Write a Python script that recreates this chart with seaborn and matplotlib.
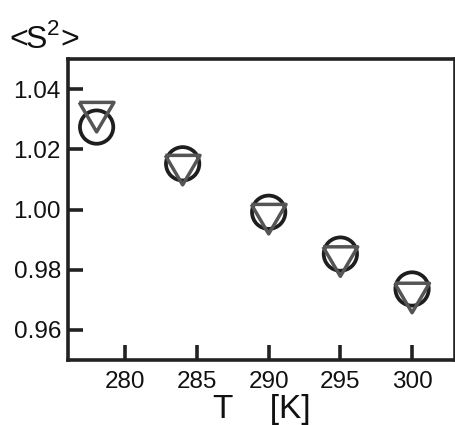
import matplotlib
matplotlib.use('Agg')
import matplotlib.pyplot as plt
import seaborn as sns
import pandas as pd

# values
temperature = [278, 284, 290, 295, 300]
s2_circle = [1.0274, 1.0152, 0.9991, 0.9852, 0.9736]
s2_triangle = [1.0307, 1.0131, 0.9968, 0.9827, 0.9706]
x_ticks = [280, 285, 290, 295, 300]
y_ticks = [0.96, 0.98, 1.00, 1.02, 1.04]

df = pd.DataFrame({'T': temperature, 'circle': s2_circle, 'triangle': s2_triangle})

sns.set_style('white')
plt.rcParams['font.family'] = ['Liberation Sans', 'DejaVu Sans']
plt.rcParams['mathtext.fontset'] = 'custom'
plt.rcParams['mathtext.rm'] = 'Liberation Sans'

# slightly flattened downward triangle, as in the original
tri_down = [(-1, 0.85), (1, 0.85), (0, -0.85), (-1, 0.85)]

fig = plt.figure(figsize=(4.56, 4.25), dpi=100)
ax = fig.add_axes([0.149, 0.153, 0.849, 0.708])

sns.scatterplot(data=df, x='T', y='circle', marker='o', s=24 ** 2,
                facecolors='none', edgecolor='#1e1e1e', linewidth=2.7, ax=ax, zorder=3)
sns.scatterplot(data=df, x='T', y='triangle', marker=tri_down, s=25 ** 2,
                facecolors='none', edgecolor='#555555', linewidth=2.5, ax=ax, zorder=4)

ax.set_xlim(276, 303)
ax.set_ylim(0.95, 1.05)
ax.set_xticks(x_ticks)
ax.set_yticks(y_ticks)
ax.set_xticklabels([str(v) for v in x_ticks])
ax.set_yticklabels([f'{v:.2f}' for v in y_ticks])

for side in ['left', 'bottom', 'top', 'right']:
    ax.spines[side].set_linewidth(2.6)
    ax.spines[side].set_color('#222222')
ax.tick_params(axis='both', direction='in', length=11, width=2.6, color='#222222',
               labelsize=17.5, labelcolor='#111111', bottom=True, left=True)
ax.tick_params(axis='y', pad=5)
ax.tick_params(axis='x', pad=8)

ax.set_xlabel('T    [K]', fontsize=24, labelpad=0.5, color='#111111')
ax.set_ylabel('')
fig.text(0.02, 0.887, '<S$^{2}$>', fontsize=23, color='#111111', ha='left', va='baseline')

fig.savefig('out.png', dpi=100)
